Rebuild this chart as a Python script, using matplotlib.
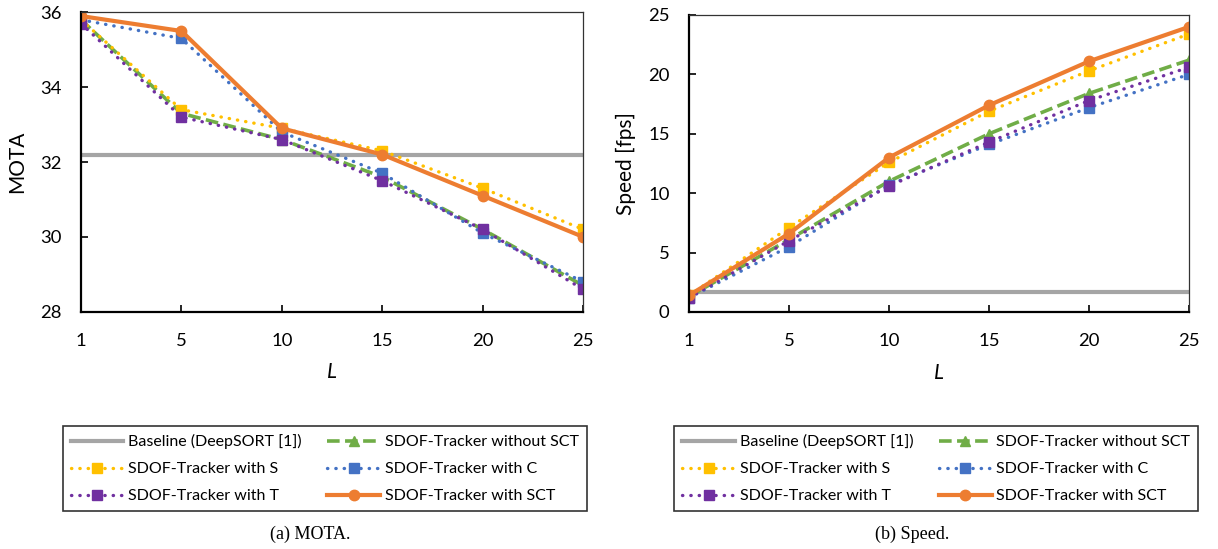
import matplotlib.pyplot as plt

plt.rcParams['font.family'] = ['Lato', 'DejaVu Sans']

L_values = ['1', '5', '10', '15', '20', '25']

# MOTA
mota_baseline = [32.2, 32.2, 32.2, 32.2, 32.2, 32.2]
mota_without = [35.8, 33.3, 32.6, 31.6, 30.2, 28.7]
mota_s = [35.8, 33.4, 32.9, 32.3, 31.3, 30.2]
mota_c = [35.8, 35.3, 32.8, 31.7, 30.1, 28.8]
mota_t = [35.7, 33.2, 32.6, 31.5, 30.2, 28.6]
mota_sct = [35.9, 35.5, 32.9, 32.2, 31.1, 30.0]

# Speed [fps]
speed_baseline = [1.7, 1.7, 1.7, 1.7, 1.7, 1.7]
speed_without = [1.3, 6.1, 11.0, 15.0, 18.4, 21.2]
speed_s = [1.4, 7.1, 12.6, 16.9, 20.3, 23.4]
speed_c = [1.2, 5.5, 10.7, 14.1, 17.2, 20.0]
speed_t = [1.2, 6.0, 10.6, 14.3, 17.8, 20.6]
speed_sct = [1.4, 6.6, 13.0, 17.4, 21.1, 24.0]

labels = ['Baseline (DeepSORT [1])', 'SDOF-Tracker without SCT', 'SDOF-Tracker with S',
          'SDOF-Tracker with C', 'SDOF-Tracker with T', 'SDOF-Tracker with SCT']

GRAY = '#A5A5A5'
GREEN = '#70AD47'
YELLOW = '#FFC000'
BLUE = '#4472C4'
PURPLE = '#7030A0'
ORANGE = '#ED7D31'

DOT = (0, (0.1, 2.4))


def draw(ax, series, ylim, yticks, ylabel):
    x = range(len(L_values))
    base, without, s, c, t, sct = series
    h0, = ax.plot(x, base, color=GRAY, lw=3, zorder=2)
    h1, = ax.plot(x, without, color=GREEN, lw=2.6, ls=(0, (3.5, 1.5)), marker='^', ms=7, zorder=3)
    h2, = ax.plot(x, s, color=YELLOW, lw=2.4, ls=DOT, dash_capstyle='round', marker='s', ms=7, zorder=3)
    h3, = ax.plot(x, c, color=BLUE, lw=2.4, ls=DOT, dash_capstyle='round', marker='s', ms=7, zorder=3)
    h4, = ax.plot(x, t, color=PURPLE, lw=2.4, ls=DOT, dash_capstyle='round', marker='s', ms=7, zorder=3)
    h5, = ax.plot(x, sct, color=ORANGE, lw=3, marker='o', ms=7.5, zorder=4)
    ax.set_xlim(0, len(L_values) - 1)
    ax.set_ylim(*ylim)
    ax.set_yticks(yticks)
    ax.set_xticks(list(x))
    ax.set_xticklabels(L_values)
    ax.tick_params(direction='in', labelsize=13.3, length=5, width=1.2)
    ax.tick_params(axis='y', pad=14)
    ax.tick_params(axis='x', pad=15)
    ax.set_xlabel('L', fontsize=15, style='italic', labelpad=10)
    ax.set_ylabel(ylabel, fontsize=15, labelpad=9)
    for side in ['left', 'bottom']:
        ax.spines[side].set_linewidth(1.6)
    for side in ['top', 'right']:
        ax.spines[side].set_linewidth(0.9)
        ax.spines[side].set_color('#333333')
    for sp in ax.spines.values():
        sp.set_zorder(5)
    return [h0, h2, h4, h1, h3, h5]


fig = plt.figure(figsize=(12.18, 5.49), dpi=100)
ax1 = fig.add_axes([0.0665, 0.4322, 0.4122, 0.5454])
ax2 = fig.add_axes([0.5657, 0.4317, 0.4105, 0.5410])

handles = draw(ax1, [mota_baseline, mota_without, mota_s, mota_c, mota_t, mota_sct],
               (28, 36), [28, 30, 32, 34, 36], 'MOTA')
draw(ax2, [speed_baseline, speed_without, speed_s, speed_c, speed_t, speed_sct],
     (0, 25), [0, 5, 10, 15, 20, 25], 'Speed [fps]')

order = [labels[0], labels[2], labels[4], labels[1], labels[3], labels[5]]
for cx in [0.2667, 0.7687]:
    leg = fig.legend(handles, order, loc='center', bbox_to_anchor=(cx, 0.146), ncol=2,
                     fontsize=11.5, handlelength=3.3, columnspacing=1.6, handletextpad=0.3,
                     labelspacing=0.8, frameon=True, fancybox=False, edgecolor='black',
                     borderpad=0.5, borderaxespad=0)
    leg.get_frame().set_linewidth(1.2)

fig.text(0.2545, 0.011, '(a) MOTA.', ha='center', va='bottom', fontsize=13, family='Liberation Serif')
fig.text(0.749, 0.011, '(b) Speed.', ha='center', va='bottom', fontsize=13, family='Liberation Serif')

fig.savefig('out.png', dpi=100)
